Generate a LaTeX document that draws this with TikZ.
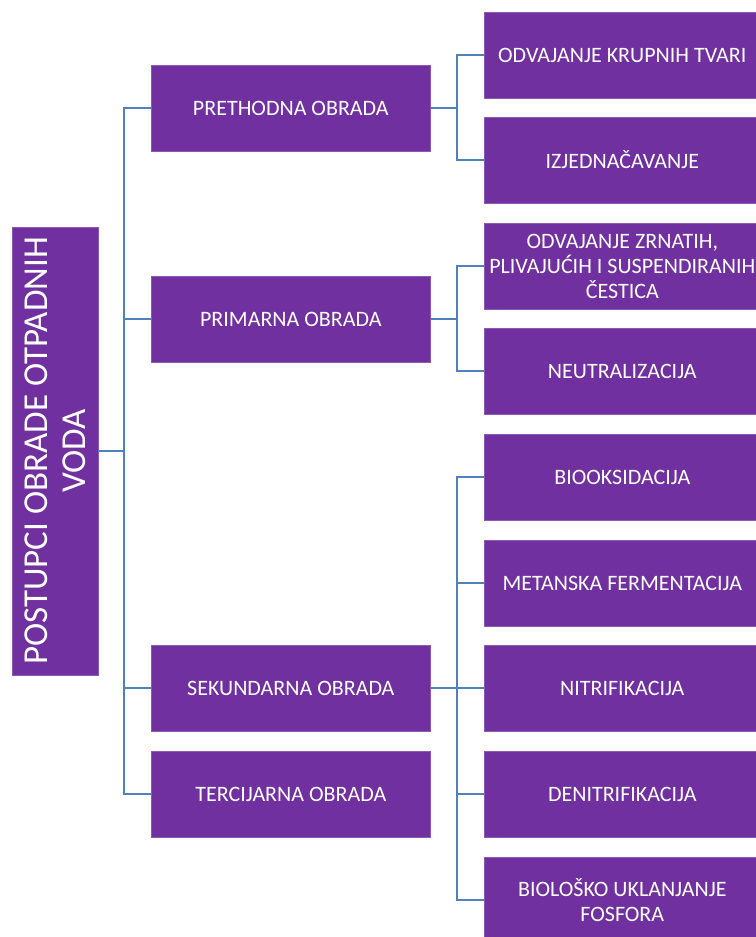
\documentclass[tikz,border=0pt]{standalone}
\usepackage{fontspec}
\setmainfont{Carlito}
\definecolor{boxpurple}{HTML}{7030A0}
\definecolor{linkblue}{HTML}{4F81BD}
\tikzset{
  lvlone/.style={fill=boxpurple, draw=boxpurple!80!white, line width=0.6pt, text=white, minimum width=279pt, minimum height=86pt, inner sep=0pt, font=\fontsize{22}{25}\selectfont, align=center, anchor=west},
  lvltwo/.style={fill=boxpurple, draw=boxpurple!80!white, line width=0.6pt, text=white, minimum width=276pt, minimum height=86pt, inner sep=0pt, font=\fontsize{22}{25}\selectfont, align=center, anchor=west},
  rootbox/.style={fill=boxpurple, draw=boxpurple!80!white, line width=0.6pt, text=white, minimum width=448pt, minimum height=86pt, inner sep=0pt, font=\fontsize{35}{38}\selectfont, align=center, rotate=90},
  link/.style={draw=linkblue, line width=2pt}
}
\begin{document}
\begin{tikzpicture}[x=1pt,y=-1pt]
\useasboundingbox (0,0) rectangle (755,937);
% root
\node[rootbox] (root) at (55,451) {POSTUPCI OBRADE OTPADNIH\\VODA};
% level one
\node[lvlone] (p1) at (151,108) {PRETHODNA OBRADA};
\node[lvlone] (p2) at (151,319) {PRIMARNA OBRADA};
\node[lvlone] (p3) at (151,688) {SEKUNDARNA OBRADA};
\node[lvlone] (p4) at (151,794) {TERCIJARNA OBRADA};
% level two
\node[lvltwo] (c1) at (484,55) {ODVAJANJE KRUPNIH TVARI};
\node[lvltwo] (c2) at (484,160) {IZJEDNAČAVANJE};
\node[lvltwo] (c3) at (484,266) {ODVAJANJE ZRNATIH,\\PLIVAJUĆIH I SUSPENDIRANIH\\ČESTICA};
\node[lvltwo] (c4) at (484,371) {NEUTRALIZACIJA};
\node[lvltwo] (c5) at (484,477) {BIOOKSIDACIJA};
\node[lvltwo] (c6) at (484,583) {METANSKA FERMENTACIJA};
\node[lvltwo] (c7) at (484,688) {NITRIFIKACIJA};
\node[lvltwo] (c8) at (484,794) {DENITRIFIKACIJA};
\node[lvltwo] (c9) at (484,900) {BIOLOŠKO UKLANJANJE\\FOSFORA};
% branch points
\coordinate (t0) at (124,451);
\coordinate (b1) at (457,108);
\coordinate (b2) at (457,319);
\coordinate (b3) at (457,688);
% connectors
\draw[link] (root.south) -- (t0);
\foreach \n in {p1,p2,p3,p4} \draw[link] (t0) |- (\n.west);
\draw[link] (p1.east) -- (b1);
\draw[link] (b1) |- (c1.west);
\draw[link] (b1) |- (c2.west);
\draw[link] (p2.east) -- (b2);
\draw[link] (b2) |- (c3.west);
\draw[link] (b2) |- (c4.west);
\draw[link] (p3.east) -- (b3);
\foreach \n in {c5,c6,c7,c8,c9} \draw[link] (b3) |- (\n.west);
\end{tikzpicture}
\end{document}
